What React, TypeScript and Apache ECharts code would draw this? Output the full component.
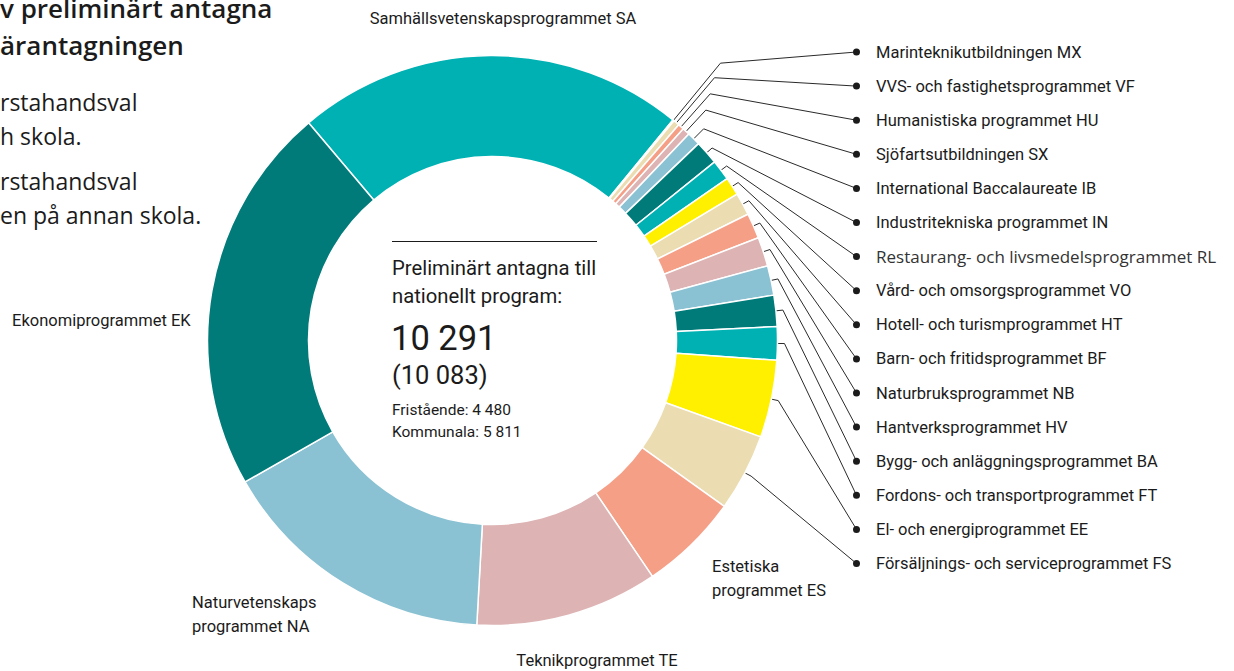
import React, { useEffect, useRef } from "react";
import * as echarts from "echarts";

// Program names, clockwise from the top-left boundary
const programs = [
  "Samhällsvetenskapsprogrammet SA",
  "Marinteknikutbildningen MX",
  "VVS- och fastighetsprogrammet VF",
  "Humanistiska programmet HU",
  "Sjöfartsutbildningen SX",
  "International Baccalaureate IB",
  "Industritekniska programmet IN",
  "Restaurang- och livsmedelsprogrammet RL",
  "Vård- och omsorgsprogrammet VO",
  "Hotell- och turismprogrammet HT",
  "Barn- och fritidsprogrammet BF",
  "Naturbruksprogrammet NB",
  "Hantverksprogrammet HV",
  "Bygg- och anläggningsprogrammet BA",
  "Fordons- och transportprogrammet FT",
  "El- och energiprogrammet EE",
  "Försäljnings- och serviceprogrammet FS",
  "Estetiska programmet ES",
  "Teknikprogrammet TE",
  "Naturvetenskapsprogrammet NA",
  "Ekonomiprogrammet EK",
];

// Text shown for the labels placed around the ring
const shownLabels = [
  "Samhällsvetenskapsprogrammet SA",
  "Marinteknikutbildningen MX",
  "VVS- och fastighetsprogrammet VF",
  "Humanistiska programmet HU",
  "Sjöfartsutbildningen SX",
  "International Baccalaureate IB",
  "Industritekniska programmet IN",
  "Restaurang- och livsmedelsprogrammet RL",
  "Vård- och omsorgsprogrammet VO",
  "Hotell- och turismprogrammet HT",
  "Barn- och fritidsprogrammet BF",
  "Naturbruksprogrammet NB",
  "Hantverksprogrammet HV",
  "Bygg- och anläggningsprogrammet BA",
  "Fordons- och transportprogrammet FT",
  "El- och energiprogrammet EE",
  "Försäljnings- och serviceprogrammet FS",
  "Estetiska\nprogrammet ES",
  "Teknikprogrammet TE",
  "Naturvetenskaps\nprogrammet NA",
  "Ekonomiprogrammet EK",
];

// Preliminarily admitted
const admitted = [
  2272, 8, 36, 35, 43, 79, 140, 120, 106, 131, 148, 170, 172, 182, 194, 451,
  452, 580, 1066, 1632, 2274,
];

const palette = [
  "#00b1b3",
  "#fff000",
  "#ebddb1",
  "#f59f87",
  "#ddb3b4",
  "#8ac1d3",
  "#007b79",
];

const centerLines = ["Preliminärt antagna till", "nationellt program:"];
const totalText = "10 291";
const previousText = "(10 083)";
const splitLines = ["Fristående: 4 480", "Kommunala: 5 811"];

const titleLines = ["v preliminärt antagna", "ärantagningen"];
const bodyLines = [
  "rstahandsval",
  "h skola.",
  "rstahandsval",
  "en på annan skola.",
];

const LABEL_FONT = "Roboto";
const BODY_FONT = "'Open Sans'";
const CX = 492.5;
const CY = 340.5;
const R_IN = 184;
const R_OUT = 285;
const DOT_X = 853;
const ROW0 = 52;
const ROW_STEP = 34.1;

const bigLabelPos: Record<number, any> = {
  0: { x: 503, y: 18, align: "center" },
  17: { x: 712, y: 578, align: "left" },
  18: { x: 597, y: 660, align: "center" },
  19: { x: 192, y: 614, align: "left" },
  20: { x: 12, y: 320, align: "left" },
};

export default function App() {
  const ref = useRef<HTMLDivElement>(null);
  useEffect(() => {
    if (!ref.current) return;
    const chart = echarts.init(ref.current, null, { renderer: "svg" });
    const data = programs.map((name, i) => {
      const big = bigLabelPos[i] !== undefined;
      const style = i === 7 ? "r" : "t";
      return {
        name,
        value: admitted[i],
        itemStyle: { color: palette[i % palette.length] },
        label: {
          formatter: big
            ? `{b|${shownLabels[i]}}`
            : `{dot|}{${style}|${shownLabels[i]}}`,
        },
        labelLine: { show: !big },
      };
    });
    const textColor = "#1b1b1b";
    chart.setOption({
      animation: false,
      backgroundColor: "#ffffff",
      series: [
        {
          type: "pie",
          center: [CX, CY],
          radius: [R_IN, R_OUT],
          startAngle: 130.2,
          clockwise: true,
          avoidLabelOverlap: false,
          silent: true,
          itemStyle: { borderColor: "#ffffff", borderWidth: 1.5 },
          label: {
            show: true,
            position: "outside",
            rich: {
              dot: {
                width: 7,
                height: 7,
                borderRadius: 4,
                backgroundColor: "#1b1b1b",
              },
              t: {
                fontFamily: LABEL_FONT,
                fontSize: 16.5,
                color: textColor,
                padding: [0, 0, 0, 16],
              },
              r: {
                fontFamily: BODY_FONT,
                fontSize: 17,
                color: "#333333",
                padding: [0, 0, 0, 16],
              },
              b: {
                fontFamily: LABEL_FONT,
                fontSize: 16.5,
                color: textColor,
                lineHeight: 24,
              },
            },
          },
          labelLine: {
            show: true,
            length: 10,
            length2: 10,
            lineStyle: { color: "#2a2a2a", width: 1 },
          },
          labelLayout: (params: any) => {
            const i = params.dataIndex;
            const big = bigLabelPos[i];
            if (big) {
              return {
                x: big.x,
                y: big.y,
                align: big.align,
                verticalAlign: "middle",
              };
            }
            const y = ROW0 + (i - 1) * ROW_STEP;
            const pts = params.labelLinePoints;
            const res: any = {
              x: DOT_X,
              y,
              align: "left",
              verticalAlign: "middle",
            };
            if (pts && pts.length) {
              const s = pts[0];
              const dx = s[0] - CX;
              const dy = s[1] - CY;
              const d = Math.hypot(dx, dy) || 1;
              const L = Math.max(7, 74 - 15 * (i - 1));
              const k = [s[0] + (dx / d) * L, s[1] + (dy / d) * L];
              res.labelLinePoints = [[s[0], s[1]], k, [DOT_X + 3.5, y]];
            }
            return res;
          },
          data,
        },
      ],
      graphic: [
        {
          type: "line",
          shape: { x1: 392, y1: 241.5, x2: 597, y2: 241.5 },
          style: { stroke: "#1b1b1b", lineWidth: 1 },
        },
        ...centerLines.map((t, j) => ({
          type: "text",
          x: 392,
          y: 268 + j * 28,
          style: {
            text: t,
            fontFamily: LABEL_FONT,
            fontSize: 20.3,
            fill: textColor,
            verticalAlign: "middle",
          },
        })),
        {
          type: "text",
          x: 391,
          y: 338,
          style: {
            text: totalText,
            fontFamily: LABEL_FONT,
            fontSize: 34.5,
            fill: textColor,
            verticalAlign: "middle",
          },
        },
        {
          type: "text",
          x: 392,
          y: 375,
          style: {
            text: previousText,
            fontFamily: LABEL_FONT,
            fontSize: 25.5,
            fill: textColor,
            verticalAlign: "middle",
          },
        },
        ...splitLines.map((t, j) => ({
          type: "text",
          x: 392,
          y: 410 + j * 22,
          style: {
            text: t,
            fontFamily: LABEL_FONT,
            fontSize: 15.5,
            fill: textColor,
            verticalAlign: "middle",
          },
        })),
        ...titleLines.map((t, j) => ({
          type: "text",
          x: 0,
          y: 8 + j * 37,
          style: {
            text: t,
            fontFamily: BODY_FONT,
            fontSize: 26,
            fontWeight: 600,
            fill: textColor,
            verticalAlign: "middle",
          },
        })),
        ...bodyLines.map((t, j) => ({
          type: "text",
          x: 0,
          y: [102, 136, 181, 215][j],
          style: {
            text: t,
            fontFamily: BODY_FONT,
            fontSize: 23,
            fill: textColor,
            verticalAlign: "middle",
          },
        })),
      ],
    });
    return () => chart.dispose();
  }, []);
  return (
    <div
      ref={ref}
      style={{
        position: "absolute",
        left: 0,
        top: 0,
        width: 1234,
        height: 671,
      }}
    />
  );
}
